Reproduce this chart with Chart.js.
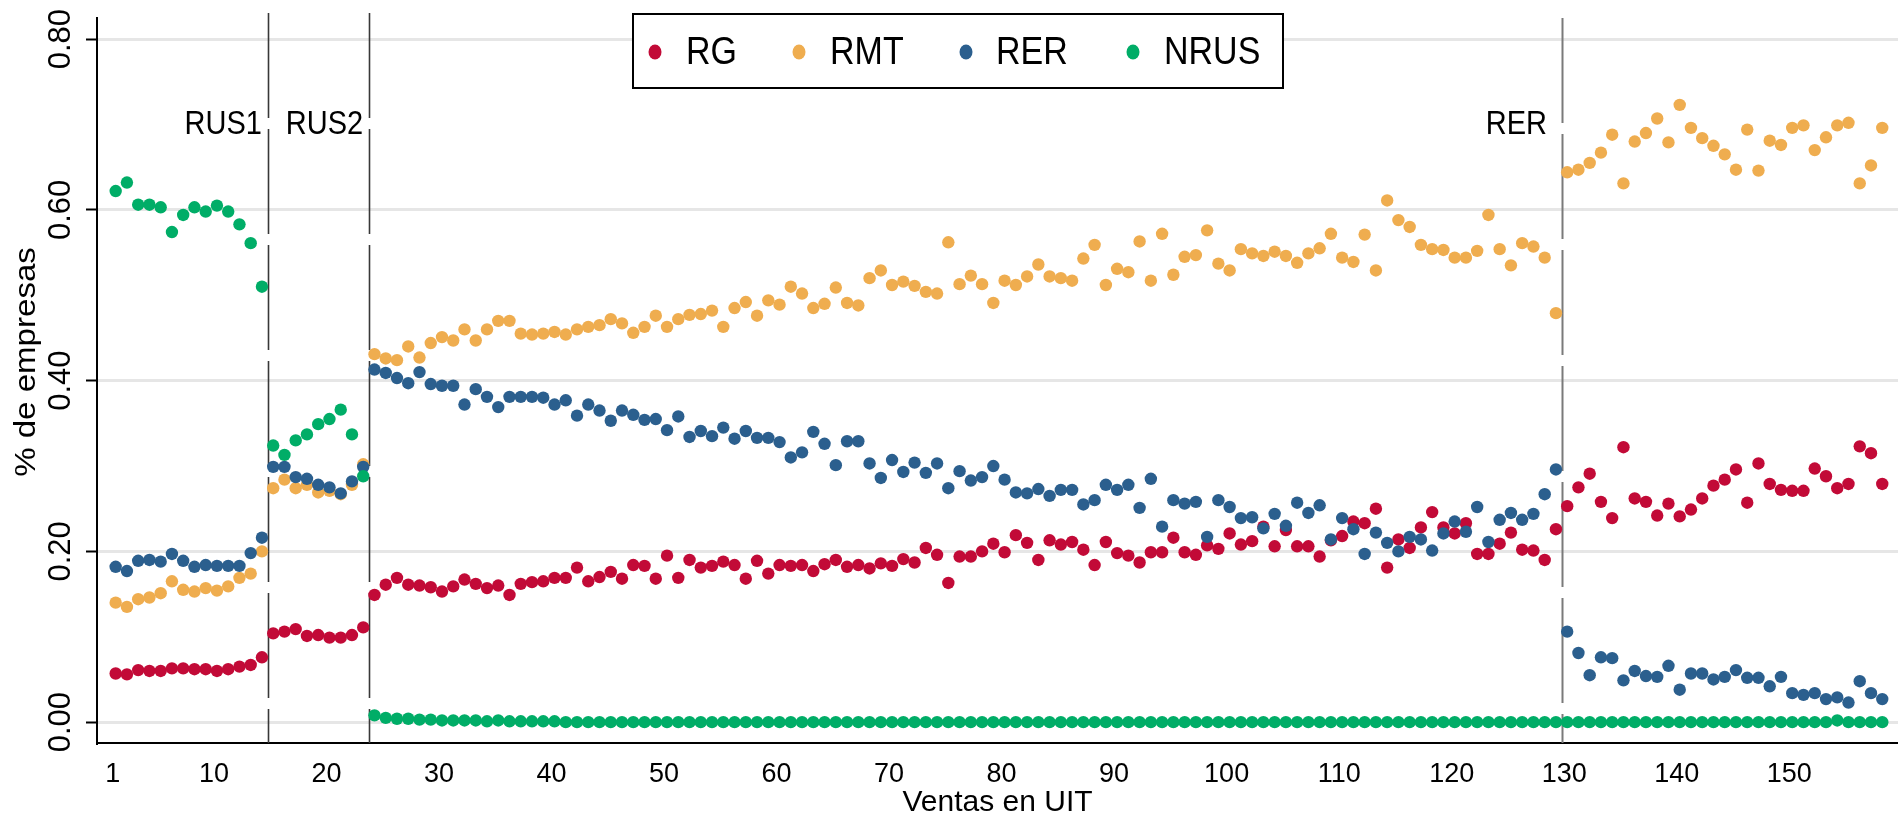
<!DOCTYPE html>
<html>
<head>
<meta charset="utf-8">
<script src="https://cdn.jsdelivr.net/npm/chart.js@4/dist/chart.umd.min.js"></script>
<style>
  html, body { margin: 0; padding: 0; background: #ffffff; }
  #wrap { width: 1898px; height: 815px; position: relative; }
</style>
</head>
<body>
<div id="wrap"><canvas id="c" width="1898" height="815"></canvas></div>
<script>
// ---------------- DATA ----------------
const seriesNames = ['RG', 'RMT', 'RER', 'NRUS'];

// x categories: Ventas en UIT (1..158)
const ventas = [];
for (let i = 1; i <= 158; i++) ventas.push(i);

const xTickLabels = [1, 10, 20, 30, 40, 50, 60, 70, 80, 90, 100, 110, 120, 130, 140, 150];
const yTickValues = [0, 0.2, 0.4, 0.6, 0.8];

// regime cut-offs and region labels
const cutoffs = [14.5, 23.5, 129.5];
const regionLabels = ['RUS1', 'RUS2', 'RER'];
const regionLabelX = [14, 23, 128.2];
const regionLabelY = 0.70;

const RG = [
  0.057, 0.056, 0.061, 0.060, 0.060, 0.063, 0.063, 0.062, 0.062, 0.060, 0.062, 0.065, 0.067, 0.076,
  0.104, 0.106, 0.109, 0.101, 0.102, 0.099, 0.099, 0.102, 0.111,
  0.149, 0.161, 0.169, 0.161, 0.160, 0.158, 0.153, 0.159, 0.167, 0.162,
  0.157, 0.160, 0.149, 0.162, 0.164, 0.165, 0.169, 0.169, 0.181, 0.165,
  0.170, 0.176, 0.168, 0.184, 0.183, 0.168, 0.195, 0.169, 0.190, 0.181,
  0.183, 0.188, 0.184, 0.168, 0.189, 0.174, 0.184,
  0.183, 0.184, 0.177, 0.185, 0.190, 0.182, 0.184, 0.180, 0.186, 0.183,
  0.191, 0.187, 0.204, 0.196, 0.163, 0.194, 0.194, 0.200, 0.209, 0.199,
  0.219, 0.210, 0.190, 0.213, 0.208, 0.211, 0.202, 0.184, 0.211, 0.198,
  0.195, 0.187, 0.199, 0.199, 0.216,
  0.199, 0.196, 0.207, 0.203, 0.221, 0.208, 0.212, 0.229, 0.206, 0.225,
  0.206, 0.206, 0.194, 0.213, 0.218, 0.235, 0.233, 0.250, 0.181, 0.214,
  0.204, 0.228, 0.246, 0.228, 0.221, 0.233, 0.197, 0.197, 0.209, 0.222,
  0.202, 0.201, 0.190, 0.226,
  0.253, 0.275, 0.291, 0.258, 0.239, 0.322, 0.262, 0.258, 0.242, 0.256,
  0.241, 0.249, 0.262, 0.277, 0.284, 0.296, 0.257, 0.303, 0.279, 0.272,
  0.271, 0.271, 0.297, 0.288, 0.274, 0.279, 0.323, 0.315, 0.279
];

const RMT = [
  0.140, 0.135, 0.144, 0.146, 0.151, 0.165, 0.155, 0.153, 0.157, 0.154, 0.159, 0.169, 0.174, 0.200,
  0.274, 0.284, 0.274, 0.278, 0.269, 0.271, 0.267, 0.278, 0.302,
  0.431, 0.426, 0.424, 0.440, 0.427, 0.444, 0.451, 0.447, 0.460, 0.447,
  0.460, 0.470, 0.470, 0.455, 0.454, 0.455, 0.457, 0.454, 0.460, 0.463,
  0.465, 0.472, 0.467, 0.456, 0.463, 0.476, 0.463, 0.472, 0.477, 0.478,
  0.482, 0.463, 0.485, 0.492, 0.476, 0.494, 0.489,
  0.510, 0.502, 0.485, 0.490, 0.509, 0.491, 0.488, 0.520, 0.529, 0.512,
  0.516, 0.511, 0.504, 0.502, 0.562, 0.513, 0.523, 0.513, 0.491, 0.517,
  0.512, 0.522, 0.536, 0.522, 0.520, 0.517, 0.543, 0.559, 0.512, 0.531,
  0.527, 0.563, 0.517, 0.572, 0.524,
  0.545, 0.547, 0.576, 0.537, 0.529, 0.554, 0.549, 0.546, 0.551, 0.546,
  0.538, 0.549, 0.555, 0.572, 0.544, 0.539, 0.571, 0.529, 0.611, 0.588,
  0.580, 0.559, 0.554, 0.553, 0.544, 0.544, 0.552, 0.594, 0.554, 0.535,
  0.561, 0.557, 0.544, 0.479,
  0.644, 0.647, 0.655, 0.667, 0.688, 0.631, 0.680, 0.690, 0.707, 0.679,
  0.723, 0.696, 0.684, 0.675, 0.665, 0.647, 0.694, 0.646, 0.681, 0.676,
  0.696, 0.699, 0.670, 0.685, 0.699, 0.702, 0.631, 0.652, 0.696
];

const RER = [
  0.182, 0.177, 0.189, 0.190, 0.188, 0.197, 0.189, 0.182, 0.184, 0.183, 0.183, 0.183, 0.198, 0.216,
  0.299, 0.299, 0.287, 0.285, 0.278, 0.275, 0.268, 0.282, 0.299,
  0.413, 0.409, 0.403, 0.397, 0.410, 0.396, 0.394, 0.394, 0.372, 0.390,
  0.381, 0.369, 0.381, 0.381, 0.381, 0.380, 0.372, 0.377, 0.359, 0.372,
  0.365, 0.353, 0.365, 0.360, 0.354, 0.355, 0.342, 0.358, 0.334, 0.341,
  0.335, 0.345, 0.332, 0.341, 0.333, 0.333, 0.328,
  0.310, 0.316, 0.340, 0.326, 0.301, 0.329, 0.329, 0.303, 0.286, 0.307,
  0.293, 0.304, 0.292, 0.303, 0.274, 0.294, 0.283, 0.287, 0.300, 0.284,
  0.269, 0.268, 0.273, 0.265, 0.272, 0.272, 0.255, 0.260, 0.278, 0.272,
  0.278, 0.251, 0.285, 0.229, 0.260,
  0.256, 0.258, 0.217, 0.260, 0.252, 0.239, 0.240, 0.227, 0.244, 0.230,
  0.257, 0.245, 0.254, 0.214, 0.239, 0.226, 0.197, 0.222, 0.210, 0.200,
  0.217, 0.214, 0.201, 0.221, 0.235, 0.223, 0.252, 0.211, 0.237, 0.245,
  0.237, 0.244, 0.267, 0.296,
  0.106, 0.081, 0.055, 0.076, 0.075, 0.049, 0.060, 0.054, 0.053, 0.066,
  0.038, 0.057, 0.057, 0.050, 0.053, 0.061, 0.052, 0.052, 0.042, 0.053,
  0.034, 0.032, 0.034, 0.027, 0.029, 0.023, 0.048, 0.034, 0.027
];

const NRUS = [
  0.622, 0.632, 0.606, 0.606, 0.603, 0.574, 0.594, 0.603, 0.598, 0.605, 0.598, 0.583, 0.561, 0.510,
  0.324, 0.313, 0.330, 0.337, 0.349, 0.355, 0.366, 0.337, 0.288,
  0.008, 0.005, 0.004, 0.004, 0.003, 0.003, 0.002, 0.002, 0.002, 0.002,
  0.001, 0.002, 0.001, 0.001, 0.001, 0.001, 0.001, 0.000, 0.000, 0.000,
  0.000, 0.000, 0.000, 0.000, 0.000, 0.000, 0.000, 0.000, 0.000, 0.000,
  0.000, 0.000, 0.000, 0.000, 0.000, 0.000, 0.000,
  0.000, 0.000, 0.000, 0.000, 0.000, 0.000, 0.000, 0.000, 0.000, 0.000,
  0.000, 0.000, 0.000, 0.000, 0.000, 0.000, 0.000, 0.000, 0.000, 0.000,
  0.000, 0.000, 0.000, 0.000, 0.000, 0.000, 0.000, 0.000, 0.000, 0.000,
  0.000, 0.000, 0.000, 0.000, 0.000,
  0.000, 0.000, 0.000, 0.000, 0.000, 0.000, 0.000, 0.000, 0.000, 0.000,
  0.000, 0.000, 0.000, 0.000, 0.000, 0.000, 0.000, 0.000, 0.000, 0.000,
  0.000, 0.000, 0.000, 0.000, 0.000, 0.000, 0.000, 0.000, 0.000, 0.000,
  0.000, 0.000, 0.000, 0.000,
  0.000, 0.000, 0.000, 0.000, 0.000, 0.000, 0.000, 0.000, 0.000, 0.000,
  0.000, 0.000, 0.000, 0.000, 0.000, 0.000, 0.000, 0.000, 0.000, 0.000,
  0.000, 0.000, 0.000, 0.000, 0.002, 0.000, 0.000, 0.000, 0.000
];

const yTitle = '% de empresas';
const xTitle = 'Ventas en UIT';

// ---------------- STYLE ----------------
const colors = ['#c20a37', '#efad4f', '#2b5f8e', '#00ad67'];
const FONT = '"Liberation Sans", Arial, Helvetica, sans-serif';
const STRETCH = 1.14; // the original text is drawn slightly tall

function pts(arr) { return arr.map((v, i) => ({ x: ventas[i], y: v })); }

const allSeries = [RG, RMT, RER, NRUS];
const datasets = allSeries.map((arr, k) => ({
  label: seriesNames[k],
  data: pts(arr),
  showLine: false,
  pointRadius: 6.2,
  pointHoverRadius: 6.2,
  pointBorderWidth: 0,
  pointBackgroundColor: colors[k],
  borderColor: colors[k],
  backgroundColor: colors[k],
  clip: false,
  order: 3 - k
}));

function tallText(ctx, text, x, y, size, align) {
  ctx.save();
  ctx.translate(x, y);
  ctx.scale(1, STRETCH);
  ctx.font = size + 'px ' + FONT;
  ctx.textAlign = align;
  ctx.textBaseline = 'middle';
  ctx.fillText(text, 0, 0);
  ctx.restore();
}

// cut-off lines, region labels and y title
const regimePlugin = {
  id: 'regimes',
  beforeDatasetsDraw(chart) {
    const { ctx, chartArea, scales } = chart;
    ctx.save();
    cutoffs.forEach((c, i) => {
      const x = Math.round(scales.x.getPixelForValue(c)) + 0.5;
      ctx.beginPath();
      ctx.strokeStyle = i < 2 ? '#383838' : '#7a7a7a';
      ctx.lineWidth = i < 2 ? 1.6 : 2;
      ctx.setLineDash([105, 11]);
      ctx.moveTo(x, i < 2 ? chartArea.top - 5 : chartArea.top);
      ctx.lineTo(x, chartArea.bottom);
      ctx.stroke();
    });
    ctx.setLineDash([]);
    ctx.fillStyle = '#000';
    regionLabels.forEach((t, i) => {
      const x = scales.x.getPixelForValue(regionLabelX[i]);
      const y = scales.y.getPixelForValue(regionLabelY);
      tallText(ctx, t, x, y, 29, 'right');
    });
    // y axis title (rotated)
    ctx.save();
    ctx.translate(27, 362);
    ctx.rotate(-Math.PI / 2);
    ctx.scale(STRETCH, 1);
    ctx.font = '29px ' + FONT;
    ctx.textAlign = 'center';
    ctx.textBaseline = 'middle';
    ctx.fillText(yTitle, 0, 0);
    ctx.restore();
    ctx.restore();
  }
};

// boxed legend drawn inside the plot
const boxLegend = {
  id: 'boxLegend',
  afterDatasetsDraw(chart) {
    const { ctx } = chart;
    const box = { x: 633, y: 14, w: 650, h: 74 };
    const dotX = [655, 799, 966, 1133];
    const textX = [686, 830, 996, 1164];
    ctx.save();
    ctx.fillStyle = '#ffffff';
    ctx.fillRect(box.x, box.y, box.w, box.h);
    ctx.lineWidth = 2;
    ctx.strokeStyle = '#000';
    ctx.strokeRect(box.x, box.y, box.w, box.h);
    chart.data.datasets.forEach((ds, i) => {
      ctx.beginPath();
      ctx.fillStyle = ds.pointBackgroundColor;
      ctx.ellipse(dotX[i], 52, 6.5, 7.5, 0, 0, Math.PI * 2);
      ctx.fill();
      ctx.fillStyle = '#000';
      tallText(ctx, ds.label, textX[i], 53, 34, 'left');
    });
    ctx.restore();
  }
};

new Chart(document.getElementById('c'), {
  type: 'scatter',
  data: { datasets },
  plugins: [regimePlugin, boxLegend],
  options: {
    responsive: false,
    devicePixelRatio: 1,
    animation: false,
    layout: { autoPadding: false, padding: { top: 18, left: 0, right: 0, bottom: 0 } },
    plugins: {
      legend: { display: false },
      tooltip: { enabled: false },
      title: { display: false }
    },
    scales: {
      x: {
        type: 'linear',
        min: -0.66,
        max: 159.4,
        grid: { display: false },
        border: { display: true, color: '#000', width: 2 },
        ticks: {
          color: '#000',
          font: { family: FONT, size: 27 },
          padding: 7,
          labelOffset: -3,
          maxRotation: 0,
          autoSkip: false,
          callback: v => String(v)
        },
        afterBuildTicks: s => { s.ticks = xTickLabels.map(v => ({ value: v })); },
        afterFit: s => { s.height = 72; },
        title: {
          display: true,
          text: xTitle,
          color: '#000',
          font: { family: FONT, size: 30, lineHeight: 0.8 },
          padding: { top: 0, bottom: 0 }
        }
      },
      y: {
        type: 'linear',
        min: -0.0244,
        max: 0.8247,
        grid: {
          color: '#e6e6e6',
          lineWidth: 3,
          drawTicks: true,
          tickLength: 11,
          tickColor: '#000',
          tickWidth: 2
        },
        border: { display: true, color: '#000', width: 2 },
        ticks: {
          color: '#000',
          font: { family: FONT, size: 31 },
          minRotation: 90,
          maxRotation: 90,
          crossAlign: 'center',
          padding: -6,
          autoSkip: false,
          callback: v => Number(v).toFixed(2)
        },
        afterBuildTicks: s => { s.ticks = yTickValues.map(v => ({ value: v })); },
        afterFit: s => { s.width = 97; },
        title: { display: false }
      }
    }
  }
});
</script>
</body>
</html>
